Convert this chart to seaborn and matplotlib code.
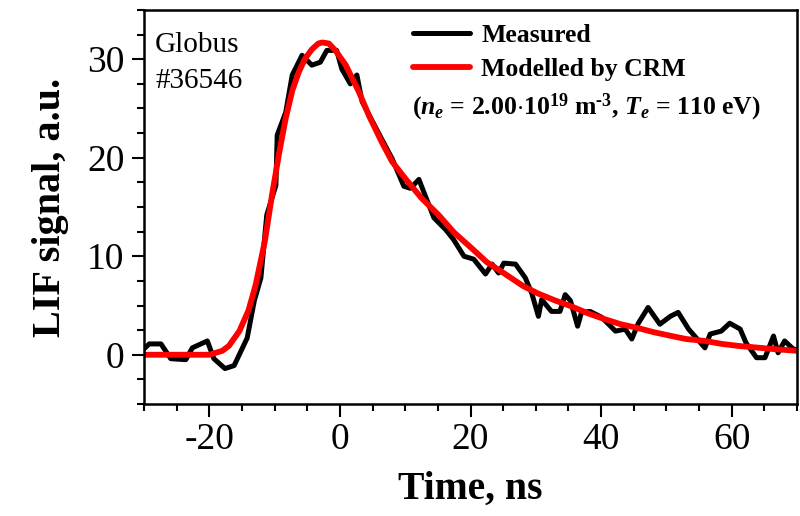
import matplotlib
matplotlib.use("Agg")
import matplotlib.pyplot as plt
import seaborn as sns
import pandas as pd
from matplotlib.lines import Line2D
from matplotlib.ticker import MultipleLocator

# Measured LIF signal (time in ns, signal in a.u.)
meas_t = [-30, -29.2, -27.4, -25.9, -23.6, -22.6, -20.3, -19.3, -17.6, -16.2,
          -14.2, -13.1, -12.1, -11.2, -9.8, -9.6, -8.3, -7.3, -5.8, -4.3,
          -3.0, -2.0, -0.5, 0.3, 1.6, 2.6, 3.4, 6.4, 8.0, 9.8,
          10.8, 12.1, 12.8, 14.4, 16.2, 17.4, 19.0, 20.5, 22.3, 23.3,
          24.3, 25.1, 26.9, 28.4, 29.4, 30.4, 30.9, 32.4, 33.7, 34.5,
          35.3, 36.4, 37.0, 38.3, 40.1, 42.2, 43.7, 44.7, 45.7, 47.2,
          49.0, 50.6, 51.8, 53.4, 55.9, 56.7, 58.4, 59.7, 61.3, 62.2,
          63.8, 65.1, 66.4, 67.1, 68.1, 69.4, 70.0]
meas_y = [0.6, 1.1, 1.1, -0.4, -0.5, 0.7, 1.4, -0.4, -1.4, -1.1,
          1.7, 5.5, 7.8, 14.2, 17.2, 22.3, 24.6, 28.4, 30.4, 29.4,
          29.7, 30.9, 30.9, 29.0, 27.5, 28.4, 25.7, 21.9, 19.9, 17.1,
          16.9, 17.8, 16.6, 13.9, 12.7, 11.7, 10.0, 9.7, 8.2, 9.2,
          8.3, 9.3, 9.2, 7.8, 6.2, 3.9, 5.6, 4.4, 4.4, 6.1,
          5.5, 2.9, 4.3, 4.4, 3.8, 2.4, 2.6, 1.6, 3.2, 4.8,
          3.1, 3.9, 4.3, 2.6, 0.7, 2.1, 2.4, 3.2, 2.6, 1.2,
          -0.3, -0.3, 1.9, 0.2, 1.4, 0.6, 0.5]

# Modelled by CRM
model_t = [-30, -20, -18, -17, -15.4, -14, -12.9, -11.5, -10.4, -9.3,
           -8.3, -7.3, -6.3, -5.3, -4.3, -3.3, -2.7, -1.7, -0.7, 0.9,
           2.9, 4.5, 6.4, 8.0, 10.0, 12.5, 15.1, 17.5, 20.2, 22.5,
           25.3, 28.0, 30.4, 33.0, 35.5, 38.0, 40.6, 43.0, 45.7, 48.0,
           50.8, 53.0, 55.9, 58.5, 61.0, 63.5, 66.0, 68.0, 70.0]
model_y = [0, 0, 0.4, 0.9, 2.4, 4.5, 7.1, 11.5, 16.2, 20.5,
           24.0, 26.8, 28.7, 30.1, 31.0, 31.6, 31.7, 31.6, 30.9, 29.4,
           26.7, 24.2, 21.6, 19.6, 17.9, 15.9, 14.2, 12.4, 10.8, 9.4,
           8.2, 7.0, 6.2, 5.5, 4.9, 4.2, 3.6, 3.1, 2.7, 2.3,
           1.9, 1.6, 1.4, 1.1, 0.9, 0.75, 0.6, 0.5, 0.4]

x_ticks = [-20, 0, 20, 40, 60]
y_ticks = [0, 10, 20, 30]

sns.set_style("ticks")
plt.rcParams["font.family"] = ["Liberation Serif", "DejaVu Serif"]
plt.rcParams["axes.unicode_minus"] = False
plt.rcParams["text.color"] = "black"
plt.rcParams["axes.labelcolor"] = "black"
plt.rcParams["xtick.color"] = "black"
plt.rcParams["ytick.color"] = "black"
plt.rcParams["mathtext.fontset"] = "custom"
plt.rcParams["mathtext.rm"] = "Liberation Serif:bold"
plt.rcParams["mathtext.bf"] = "Liberation Serif:bold"
plt.rcParams["mathtext.it"] = "Liberation Serif:bold:italic"

fig = plt.figure(figsize=(8, 5.16), dpi=100)
ax = fig.add_axes([144 / 800, 1 - 404 / 516, (797 - 144) / 800, (404 - 10) / 516])

df_m = pd.DataFrame({"t": meas_t, "y": meas_y})
df_c = pd.DataFrame({"t": model_t, "y": model_y})
sns.lineplot(data=df_m, x="t", y="y", ax=ax, color="black", lw=3.6, sort=False)
sns.lineplot(data=df_c, x="t", y="y", ax=ax, color="#ff0000", lw=4.2, sort=False)

ax.set_xlim(-30, 70)
ax.set_ylim(-5, 35)
ax.set_xticks(x_ticks)
ax.set_yticks(y_ticks)
ax.xaxis.set_minor_locator(MultipleLocator(5))
ax.yaxis.set_minor_locator(MultipleLocator(2.5))
ax.tick_params(which="major", direction="out", length=9, width=1.5, labelsize=27, pad=4)
ax.tick_params(axis="y", which="major", pad=5)
ax.tick_params(which="minor", direction="out", length=5, width=1.5)
for s in ax.spines.values():
    s.set_linewidth(1.8)
    s.set_color("black")

ax.set_xlabel("Time, ns", fontsize=28.5, fontweight="bold", labelpad=10)
ax.set_ylabel("LIF signal, a.u.", fontsize=29, fontweight="bold", labelpad=13)

fig.text(155 / 800, 1 - 52 / 516, "Globus", fontsize=21, va="baseline", ha="left")
fig.text(155 / 800, 1 - 88 / 516, "#36546", fontsize=21, va="baseline", ha="left")

handles = [Line2D([], [], color="black", lw=3.6), Line2D([], [], color="#ff0000", lw=4.2)]
fig.legend(handles, ["Measured", "Modelled by CRM"], loc="upper left",
           bbox_to_anchor=(413 / 800, 1 - 24 / 516), frameon=False,
           prop={"family": "Liberation Serif", "weight": "bold", "size": 18.5},
           handlelength=2.2, handletextpad=0.45, labelspacing=0.42,
           borderpad=0, borderaxespad=0)
fig.text(412 / 800, 1 - 114 / 516,
         r"($n_e$ = 2.00$\cdot$10$^{19}$ m$^{\text{-3}}$, $T_e$ = 110 eV)",
         fontsize=18.5, fontweight="bold", va="baseline", ha="left")

fig.savefig("out.png", dpi=100)
